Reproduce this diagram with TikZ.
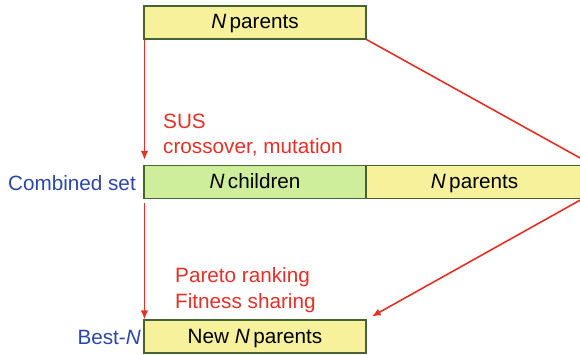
\documentclass[tikz,border=0pt]{standalone}
\usepackage{fontspec}
\setmainfont{Liberation Sans}
\usetikzlibrary{arrows.meta}
\definecolor{boxyellow}{RGB}{246,241,154}
\definecolor{boxgreen}{RGB}{206,238,156}
\definecolor{boxedge}{RGB}{70,100,50}
\definecolor{arrred}{RGB}{228,48,38}
\definecolor{labblue}{RGB}{45,70,170}
\tikzset{
  popbox/.style={draw=boxedge, line width=1.1pt, minimum height=33pt, inner sep=0pt, text height=15pt, text depth=2pt, font=\fontsize{20.7}{25}\selectfont},
  arr/.style={draw=arrred, line width=1.6pt, -{Latex[length=9pt,width=7.5pt]}},
  redline/.style={draw=arrred, line width=1.6pt},
  redtxt/.style={text=arrred, align=left, inner sep=0pt, font=\fontsize{20.7}{25.5}\selectfont},
  bluetxt/.style={text=labblue, inner sep=0pt, font=\fontsize{20.7}{25}\selectfont}
}
\begin{document}
\begin{tikzpicture}[x=1pt,y=-1pt]
\useasboundingbox (0,0) rectangle (580,355);
\clip (0,0) rectangle (580,355);
\node[popbox, fill=boxyellow, minimum width=222pt] (top) at (255,22.5) {\textit{N}\,parents};
\node[popbox, fill=boxgreen, minimum width=222pt] (children) at (255,182) {\textit{N}\,children};
\node[popbox, fill=boxyellow, minimum width=216pt, anchor=west] (parents) at (366,182) {\textit{N}\,parents};
\node[popbox, fill=boxyellow, minimum width=222pt] (new) at (255,336.5) {New \textit{N}\,parents};
\node[bluetxt, anchor=east] (comb) at (136,183) {Combined set};
\node[bluetxt, anchor=east] (best) at (141,337) {Best-\textit{N}};
\node[redtxt, anchor=west] (ops1) at (163,135) {SUS\\crossover, mutation};
\node[redtxt, anchor=west] (ops2) at (175,290) {Pareto ranking\\Fitness sharing};
\coordinate (r1) at (592,164.6);
\coordinate (r2) at (592,193.5);
\draw[arr, shorten >=5pt] ([xshift=1pt]top.south west) -- ([xshift=1pt]children.north west);
\draw[arr, shorten <=4pt] ([xshift=1pt]children.south west) -- ([xshift=1pt]new.north west);
\draw[redline] (top.south east) -- (r1);
\draw[arr, shorten >=6pt] (r2) -- (new.north east);
\end{tikzpicture}
\end{document}
